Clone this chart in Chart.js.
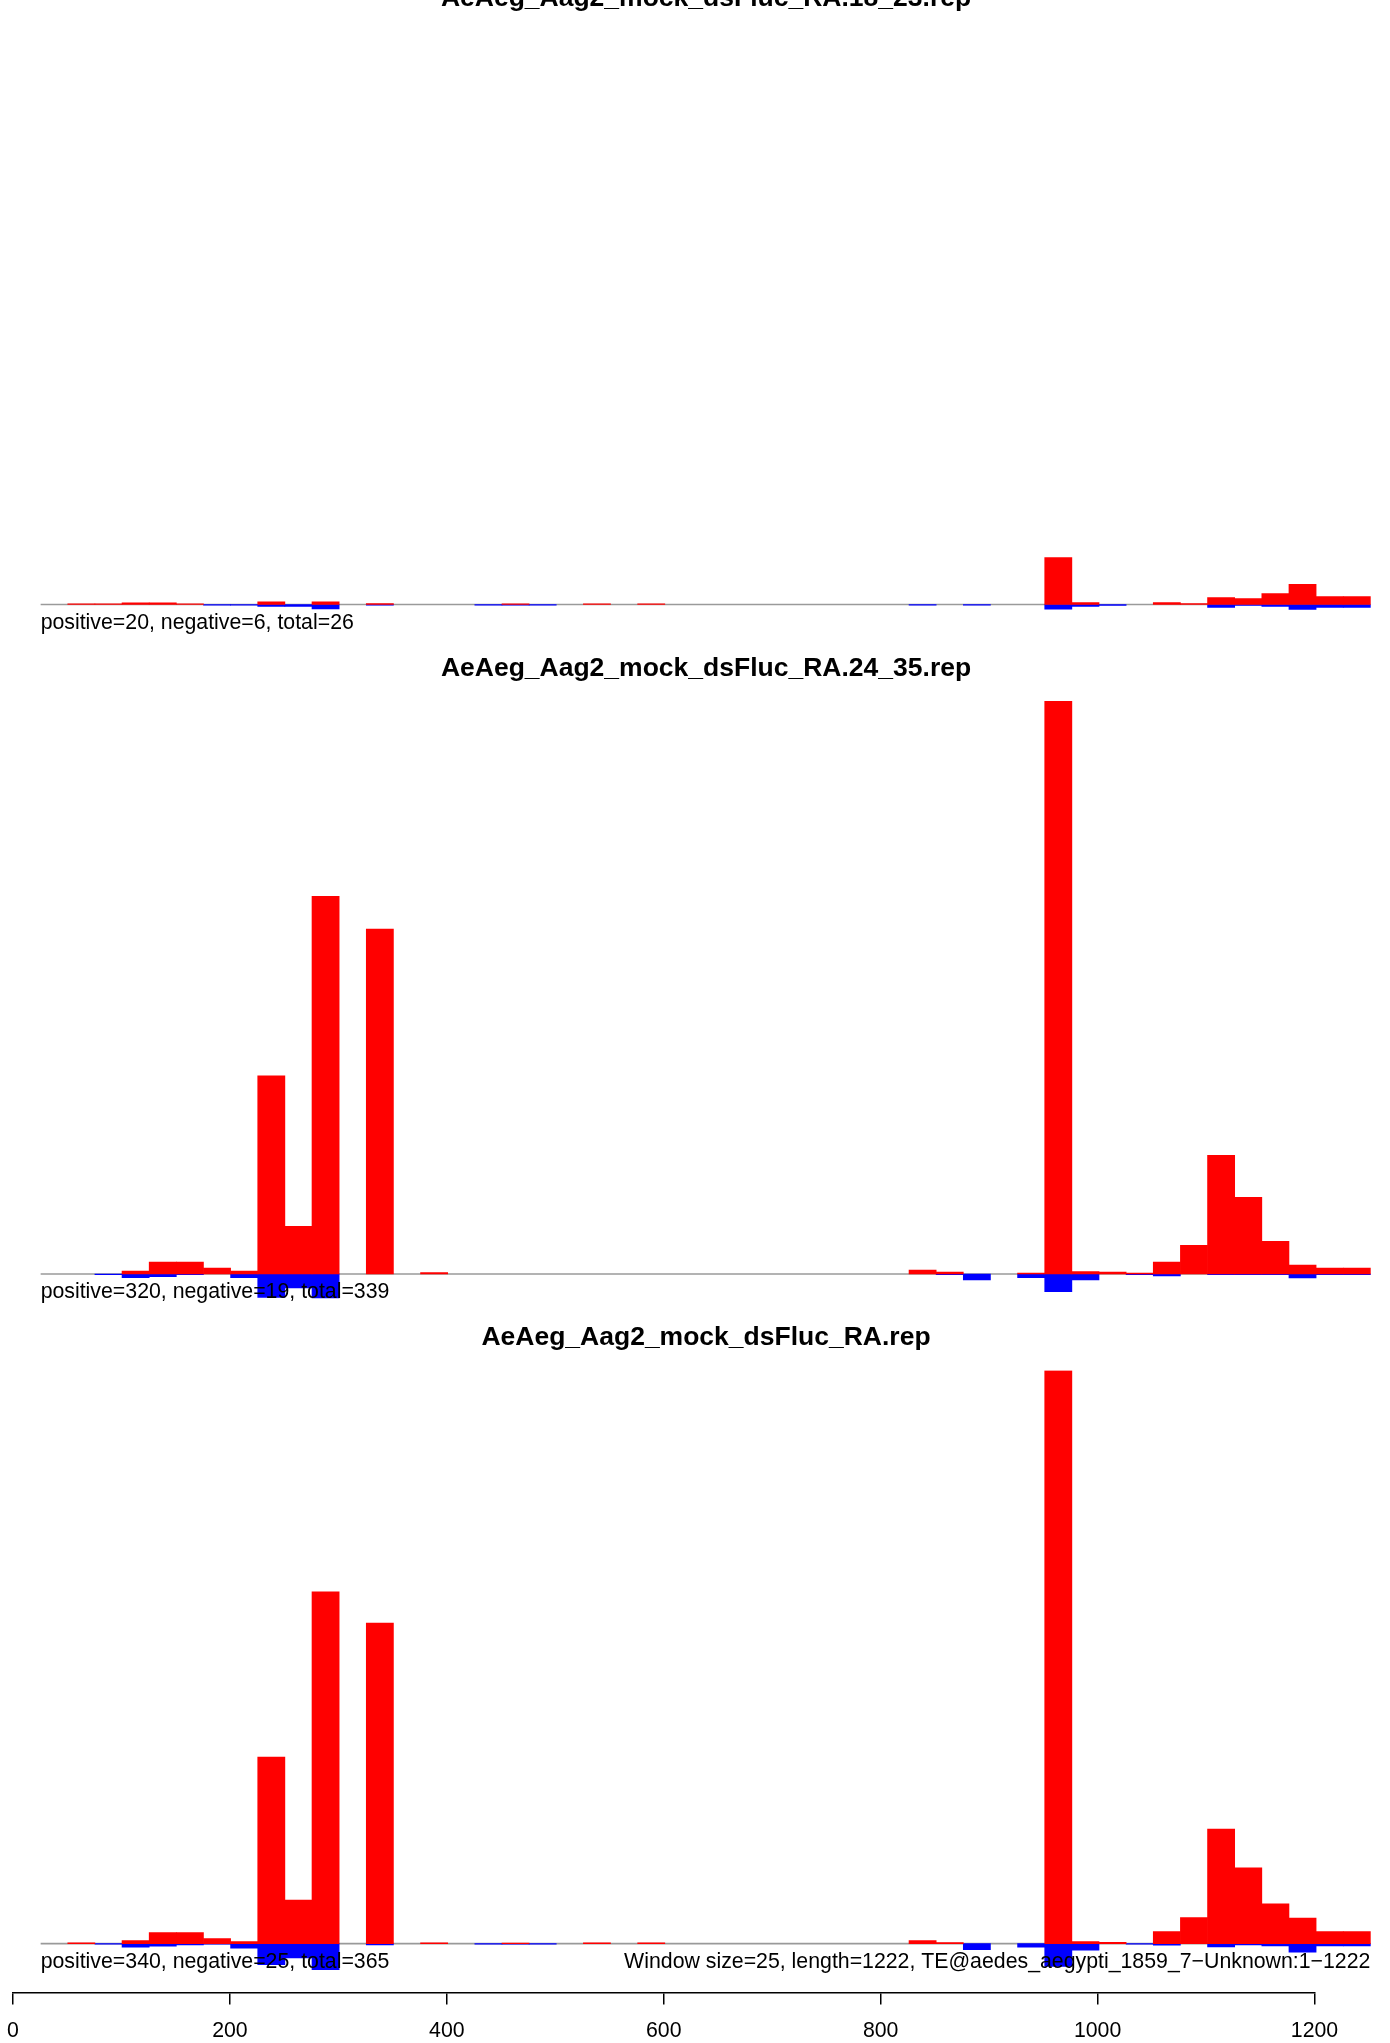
<!DOCTYPE html>
<html>
<head>
<meta charset="utf-8">
<script src="https://cdn.jsdelivr.net/npm/chart.js@4.4.1/dist/chart.umd.min.js"></script>
<style>
html, body { margin: 0; padding: 0; background: #ffffff; overflow: hidden; }
#wrap { position: relative; width: 1390px; height: 2043px; overflow: hidden; background: #ffffff; }
#wrap canvas { position: absolute; left: 0; }
</style>
</head>
<body>
<div id="wrap">
  <canvas id="c1" width="1390" height="700" style="top:-40px"></canvas>
  <canvas id="c2" width="1390" height="700" style="top:630px"></canvas>
  <canvas id="c3" width="1390" height="700" style="top:1299px"></canvas>
  <canvas id="cx" width="1440" height="135" style="top:1922px; left:-40px"></canvas>
</div>
<script>
// ---------------- DATA ----------------
const windowStart = [0, 25, 50, 75, 100, 125, 150, 175, 200, 225,
  250, 275, 300, 325, 350, 375, 400, 425, 450, 475,
  500, 525, 550, 575, 600, 625, 650, 675, 700, 725,
  750, 775, 800, 825, 850, 875, 900, 925, 950, 975,
  1000, 1025, 1050, 1075, 1100, 1125, 1150, 1175, 1200, 1225];
const windowSize = 25;

const titles = ["AeAeg_Aag2_mock_dsFluc_RA.18_23.rep", "AeAeg_Aag2_mock_dsFluc_RA.24_35.rep", "AeAeg_Aag2_mock_dsFluc_RA.rep"];
const notes = ["positive=20, negative=6, total=26", "positive=320, negative=19, total=339", "positive=340, negative=25, total=365"];
const footNote = "Window size=25, length=1222, TE@aedes_aegypti_1859_7\u2212Unknown:1\u22121222";
const xTicks = [0, 200, 400, 600, 800, 1000, 1200];

// panel 1 (18_23) sense / antisense
const p1Plus = [0, 0, 0.12, 0.12, 0.3, 0.3, 0.12, 0, 0, 0.47,
  0, 0.47, 0, 0.17, 0, 0, 0, 0, 0.12, 0,
  0, 0.12, 0, 0.12, 0, 0, 0, 0, 0, 0,
  0, 0, 0, 0, 0, 0, 0, 0, 8.2, 0.35,
  0, 0, 0.35, 0.17, 1.22, 1.05, 1.92, 3.5, 1.4, 1.4];
const p1Minus = [0, 0, 0, 0, 0, 0, 0, 0.12, 0.12, 0.35,
  0.35, 0.76, 0, 0.12, 0, 0, 0, 0.12, 0.12, 0.12,
  0, 0, 0, 0, 0, 0, 0, 0, 0, 0,
  0, 0, 0, 0.12, 0, 0.12, 0, 0, 0.82, 0.35,
  0.15, 0, 0, 0, 0.52, 0.17, 0.35, 0.87, 0.52, 0.52];

// panel 2 (24_35)
const p2Plus = [0, 0, 0, 0, 0.52, 2.09, 2.09, 1.05, 0.52, 34.6,
  8.3, 65.9, 0, 60.2, 0, 0.23, 0, 0, 0, 0,
  0, 0, 0, 0, 0, 0, 0, 0, 0, 0,
  0, 0, 0, 0.7, 0.35, 0, 0, 0.17, 100, 0.41,
  0.35, 0.17, 2.09, 5.0, 20.7, 13.4, 5.7, 1.57, 1.05, 1.05];
const p2Minus = [0, 0, 0, 0.12, 0.64, 0.47, 0.12, 0, 0.64, 4.07,
  2.44, 4.19, 0, 0, 0, 0, 0, 0, 0, 0,
  0, 0, 0, 0, 0, 0, 0, 0, 0, 0,
  0, 0, 0, 0, 0.12, 1.05, 0, 0.64, 3.08, 1.05,
  0, 0.12, 0.35, 0, 0.12, 0.12, 0.12, 0.7, 0.12, 0.12];

// panel 3 (all)
const p3Plus = [0, 0, 0.13, 0, 0.57, 2.08, 2.08, 0.94, 0.38, 35.2,
  8.2, 66.4, 0, 60.5, 0, 0.13, 0, 0, 0.1, 0,
  0, 0.13, 0, 0.13, 0, 0, 0, 0, 0, 0,
  0, 0, 0, 0.57, 0.19, 0, 0, 0, 108.2, 0.38,
  0.25, 0, 2.27, 4.91, 21.6, 14.3, 7.5, 4.8, 2.27, 2.27];
const p3Minus = [0, 0, 0, 0.13, 0.69, 0.5, 0.25, 0.13, 0.88, 4.0,
  2.7, 4.9, 0, 0.25, 0, 0, 0, 0.13, 0.13, 0.13,
  0, 0, 0, 0, 0, 0, 0, 0, 0, 0,
  0, 0, 0, 0, 0, 1.13, 0, 0.69, 4.3, 1.26,
  0, 0.13, 0.31, 0, 0.63, 0.25, 0.44, 1.64, 0.44, 0.44];

// shared y maxima (panels 1 & 2 share a scale, panel 3 has its own)
const yMax = [100, 100, 108.2];

// ---------------- LAYOUT ----------------
const FONT = '"Liberation Sans", Arial, Helvetica, sans-serif';
const X0 = 13.5;          // pixel of x = 0 (bars)
const PX_PER_UNIT = 1.0855;
const XMAX = (1390 - X0) / PX_PER_UNIT;
const AXIS_X0 = 13;       // pixel of tick 0
const AXIS_X1 = 1314.5;   // pixel of tick 1200
const AXIS_SHIFT = 40;    // axis canvas starts 40px left of the page
const CANVAS_H = 700;
const panelLayout = [
  { id: 'c1', canvasTop: -40, titleY: 6, top: 31.5, base: 604.5, noteY: 628.5 },
  { id: 'c2', canvasTop: 630, titleY: 675.5, top: 701, base: 1274, noteY: 1298 },
  { id: 'c3', canvasTop: 1299, titleY: 1345, top: 1370.5, base: 1943.6, noteY: 1967.6 }
];

const textPlugin = {
  id: 'panelText',
  afterDatasetsDraw(chart, args, opts) {
    const ctx = chart.ctx;
    const xs = chart.scales.x;
    ctx.save();
    ctx.fillStyle = '#000000';
    ctx.textBaseline = 'alphabetic';
    ctx.font = 'bold 26.5px ' + FONT;
    ctx.textAlign = 'center';
    ctx.fillText(opts.title, 706, opts.titleY);
    ctx.font = '21.3px ' + FONT;
    ctx.textAlign = 'left';
    ctx.fillText(opts.note, xs.getPixelForValue(windowSize), opts.noteY);
    if (opts.right) {
      ctx.textAlign = 'right';
      ctx.fillText(opts.right, xs.getPixelForValue(windowStart[windowStart.length - 1] + windowSize), opts.noteY);
    }
    ctx.restore();
  }
};

function toPoints(values, sign) {
  return windowStart.map((s, i) => ({ x: s + windowSize / 2, y: values[i] === 0 ? null : sign * values[i] }));
}

function panel(k, plus, minus) {
  const L = panelLayout[k];
  const plotTop = L.top - L.canvasTop;
  const base = L.base - L.canvasTop;
  const ymax = yMax[k];
  const ymin = -ymax * (CANVAS_H - base) / (base - plotTop);
  const lastEdge = windowStart[windowStart.length - 1] + windowSize;
  new Chart(document.getElementById(L.id), {
    type: 'bar',
    data: {
      datasets: [
        { type: 'line', data: [{ x: windowSize, y: 0 }, { x: lastEdge, y: 0 }],
          borderColor: '#9a9a9a', borderWidth: 1.6, pointRadius: 0, order: 5 },
        { label: 'positive', data: toPoints(plus, 1), backgroundColor: '#ff0000',
          borderWidth: 0, grouped: false, barPercentage: 1, categoryPercentage: 1, order: 1 },
        { label: 'negative', data: toPoints(minus, -1), backgroundColor: '#0000ff',
          borderWidth: 0, grouped: false, barPercentage: 1, categoryPercentage: 1, order: 1 }
      ]
    },
    options: {
      responsive: false,
      animation: false,
      devicePixelRatio: 1,
      layout: { padding: { left: X0, right: 0, top: plotTop, bottom: 0 } },
      plugins: {
        legend: { display: false },
        tooltip: { enabled: false },
        panelText: {
          title: titles[k], titleY: L.titleY - L.canvasTop,
          note: notes[k], noteY: L.noteY - L.canvasTop,
          right: k === 2 ? footNote : null
        }
      },
      scales: {
        x: { type: 'linear', min: 0, max: XMAX, offset: false, display: false },
        y: { type: 'linear', min: ymin, max: ymax, display: false }
      }
    },
    plugins: [textPlugin]
  });
}

panel(0, p1Plus, p1Minus);
panel(1, p2Plus, p2Minus);
panel(2, p3Plus, p3Minus);

// bottom axis
new Chart(document.getElementById('cx'), {
  type: 'scatter',
  data: { datasets: [{ data: [] }] },
  options: {
    responsive: false,
    animation: false,
    devicePixelRatio: 1,
    layout: { padding: { left: AXIS_X0 + AXIS_SHIFT, right: 1440 - AXIS_SHIFT - AXIS_X1, top: 0, bottom: 0 } },
    plugins: { legend: { display: false }, tooltip: { enabled: false } },
    scales: {
      x: {
        type: 'linear', position: 'bottom', min: xTicks[0], max: xTicks[xTicks.length - 1],
        afterBuildTicks: (s) => { s.ticks = xTicks.map(v => ({ value: v })); },
        ticks: { color: '#000000', font: { family: FONT, size: 21.3 }, padding: 13.5, maxRotation: 0, autoSkip: false,
                 callback: (v) => String(v) },
        grid: { display: true, drawOnChartArea: false, drawTicks: true, tickLength: 12, color: '#000000', lineWidth: 1.5 },
        border: { display: true, color: '#000000', width: 1.5 }
      },
      y: { display: false, min: 0, max: 1 }
    }
  }
});
</script>
</body>
</html>
